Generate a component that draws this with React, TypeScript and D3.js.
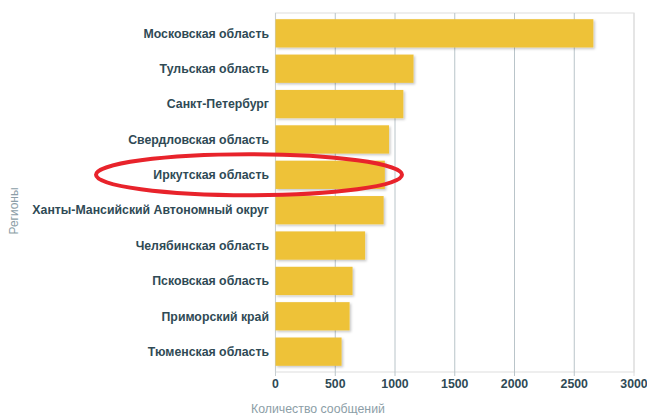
import React from "react";
import * as d3 from "d3";

const regions = [
  "Московская область",
  "Тульская область",
  "Санкт-Петербург",
  "Свердловская область",
  "Иркутская область",
  "Ханты-Мансийский Автономный округ",
  "Челябинская область",
  "Псковская область",
  "Приморский край",
  "Тюменская область",
];
const counts = [2660, 1155, 1070, 950, 915, 905, 750, 645, 620, 553];
const xTicks = [0, 500, 1000, 1500, 2000, 2500, 3000];
const highlighted = "Иркутская область";
const yTitle = "Регионы";
const xTitle = "Количество сообщений";

const W = 647;
const H = 415;
const left = 275.5;
const right = 634;
const top = 13;
const bottom = 372;

export default function App() {
  const x = d3.scaleLinear().domain([0, 3000]).range([left, right]);
  const y = d3
    .scaleBand<string>()
    .domain(regions)
    .range([top, bottom])
    .paddingInner(0.2)
    .paddingOuter(0.175);
  const bw = y.bandwidth();
  const font = "'Liberation Sans', Arial, sans-serif";
  const hy = (y(highlighted) as number) + bw / 2;

  return (
    <svg
      width={W}
      height={H}
      style={{ position: "absolute", left: 0, top: 0, background: "#fff" }}
      fontFamily={font}
    >
      <defs>
        <filter id="sh" x="-5%" y="-20%" width="115%" height="150%">
          <feDropShadow dx="1.5" dy="1.5" stdDeviation="0.8" floodColor="#000" floodOpacity="0.22" />
        </filter>
      </defs>
      <rect x={left} y={top} width={right - left} height={bottom - top} fill="none" stroke="#e3e3e3" strokeWidth={1.2} />
      {xTicks.map((t) => (
        <line
          key={t}
          x1={x(t)}
          x2={x(t)}
          y1={top}
          y2={bottom + 4}
          stroke={t === 0 || t === 3000 ? "#dcdcdc" : "#b9c4c9"}
          strokeWidth={1}
        />
      ))}
      <line x1={left} x2={left} y1={top} y2={bottom + 4} stroke="#c8cfd2" strokeWidth={1} />
      {regions.map((r, i) => (
        <rect
          key={r}
          x={x(0)}
          y={y(r)}
          width={x(counts[i]) - x(0)}
          height={bw}
          fill="#EEC239"
          filter="url(#sh)"
        />
      ))}
      {regions.map((r) => (
        <text
          key={r}
          x={269}
          y={(y(r) as number) + bw / 2}
          dy="0.35em"
          textAnchor="end"
          fontSize={12.3}
          fontWeight="bold"
          fill="#2f4a55"
        >
          {r}
        </text>
      ))}
      {xTicks.map((t) => (
        <text
          key={t}
          x={x(t)}
          y={388}
          textAnchor="middle"
          fontSize={12.3}
          fontWeight="bold"
          fill="#2f4a55"
        >
          {t}
        </text>
      ))}
      <text x={318} y={413} textAnchor="middle" fontSize={12.3} fill="#8c9ea7">
        {xTitle}
      </text>
      <text
        transform={`translate(18,211) rotate(-90)`}
        textAnchor="middle"
        fontSize={12}
        fill="#8c9ea7"
      >
        {yTitle}
      </text>
      <ellipse cx={249} cy={hy} rx={153} ry={20.5} fill="none" stroke="#E8232B" strokeWidth={4} />
    </svg>
  );
}
